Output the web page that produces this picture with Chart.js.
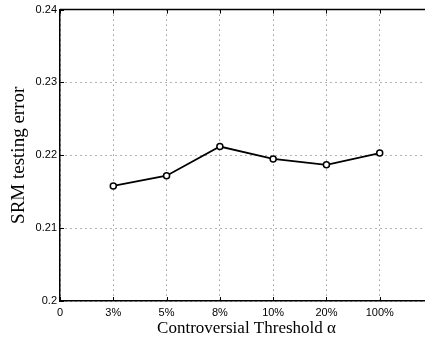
<!DOCTYPE html>
<html>
<head>
<meta charset="utf-8">
<script src="https://cdn.jsdelivr.net/npm/chart.js@4/dist/chart.umd.min.js"></script>
<style>
body { margin: 0; overflow: hidden; background: #fff; }
#wrap { width: 425px; height: 339px; overflow: hidden; }
</style>
</head>
<body>
<div id="wrap"><canvas id="srmChart" width="440" height="339"></canvas></div>
<script>
// thresholds on the x axis (first and last slot are empty padding slots)
var thresholds = ['0', '3%', '5%', '8%', '10%', '20%', '100%', ''];
// SRM testing error
var srmError = [null, 0.2158, 0.2172, 0.2212, 0.2195, 0.2187, 0.2203, null];
var yTicks = [0.2, 0.21, 0.22, 0.23, 0.24];

// solid top frame line + small inward ticks like the matlab box
var framePlugin = {
    id: 'frame',
    afterDraw: function(chart) {
        var a = chart.chartArea;
        var c = chart.ctx;
        var xs = chart.scales.x, ys = chart.scales.y;
        c.save();
        c.strokeStyle = '#000';
        c.lineWidth = 1.5;
        c.beginPath();
        c.moveTo(a.left, a.top);
        c.lineTo(a.right, a.top);
        c.stroke();
        c.lineWidth = 1;
        c.beginPath();
        for (var i = 0; i < xs.ticks.length; i++) {
            var px = Math.round(xs.getPixelForTick(i)) + 0.5;
            c.moveTo(px, a.bottom); c.lineTo(px, a.bottom - 4);
            c.moveTo(px, a.top); c.lineTo(px, a.top + 4);
        }
        for (var j = 0; j < ys.ticks.length; j++) {
            var py = Math.round(ys.getPixelForTick(j)) + 0.5;
            c.moveTo(a.left, py); c.lineTo(a.left + 4, py);
        }
        c.stroke();
        c.restore();
    }
};

var ctx = document.getElementById('srmChart').getContext('2d');
var srmChart = new Chart(ctx, {
    type: 'line',
    data: {
        labels: thresholds,
        datasets: [{
            label: 'SRM testing error',
            data: srmError,
            borderColor: '#000',
            borderWidth: 1.8,
            pointRadius: 3,
            pointBorderWidth: 1.5,
            pointBorderColor: '#000',
            pointBackgroundColor: '#fff',
            fill: false,
            tension: 0
        }]
    },
    options: {
        responsive: false,
        animation: false,
        layout: { padding: { left: 0, top: 8, right: 7, bottom: 0 } },
        plugins: {
            legend: { display: false },
            tooltip: { enabled: false }
        },
        scales: {
            x: {
                type: 'category',
                offset: false,
                afterFit: function(scale) { scale.height = 38; },
                grid: {
                    color: '#666',
                    lineWidth: 1,
                    drawTicks: false
                },
                border: { color: '#000', width: 1.5, dash: [1, 4] },
                ticks: {
                    color: '#000',
                    padding: 5,
                    maxRotation: 0,
                    autoSkip: false,
                    font: { family: 'Liberation Sans', size: 11 }
                },
                title: {
                    display: true,
                    text: 'Controversial Threshold \u03b1',
                    color: '#000',
                    padding: { top: 0, bottom: 0 },
                    font: { family: 'Liberation Serif', size: 17 }
                }
            },
            y: {
                min: 0.2,
                max: 0.24,
                afterFit: function(scale) { scale.width = 60; },
                afterBuildTicks: function(scale) {
                    scale.ticks = yTicks.map(function(v) { return { value: v }; });
                },
                grid: {
                    color: '#666',
                    lineWidth: 1,
                    drawTicks: false
                },
                border: { color: '#000', width: 1.5, dash: [1, 4] },
                ticks: {
                    color: '#000',
                    padding: 3,
                    font: { family: 'Liberation Sans', size: 11 },
                    callback: function(v) { return String(Math.round(v * 100) / 100); }
                },
                title: {
                    display: true,
                    text: 'SRM testing error',
                    color: '#000',
                    padding: { top: 8, bottom: 0 },
                    font: { family: 'Liberation Serif', size: 19 }
                }
            }
        }
    },
    plugins: [framePlugin]
});
</script>
</body>
</html>
